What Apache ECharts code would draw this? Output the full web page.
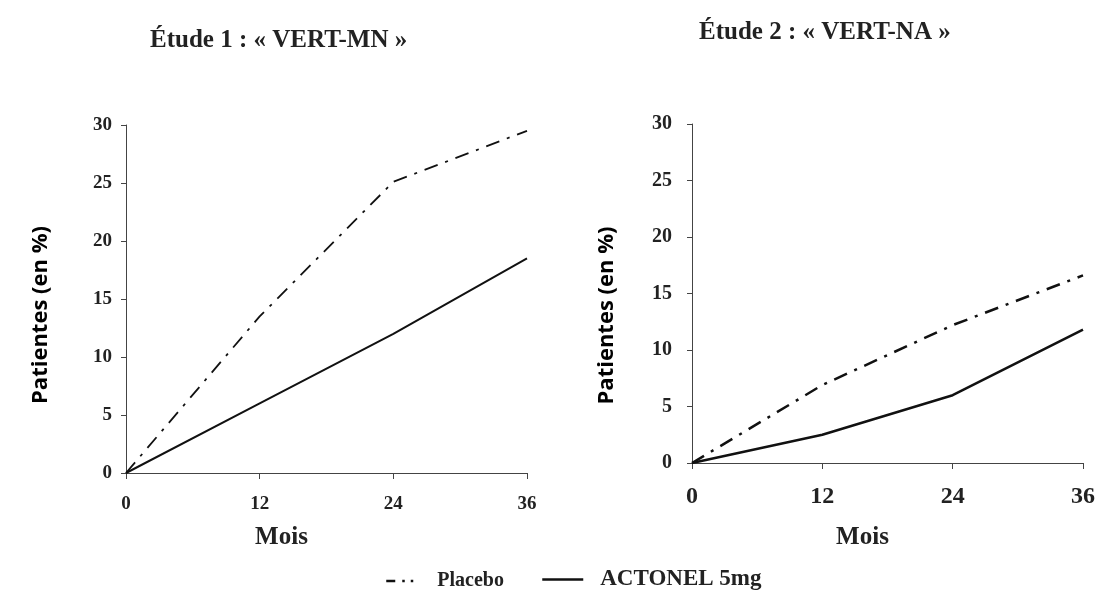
<!DOCTYPE html>
<html lang="fr">
<head>
    <meta charset="UTF-8">
    <title>VERT-MN / VERT-NA</title>
    <script src="https://cdn.jsdelivr.net/npm/echarts@6/dist/echarts.min.js"></script>
</head>
<body style="margin:0;background:#fff;">
<div id="chart" style="width:1102px;height:596px;"></div>
<script type="text/javascript">
    // mois de suivi
    var months = [0, 12, 24, 36];
    // Etude 1 : VERT-MN
    var placebo1 = [0, 13.5, 25.1, 29.5];
    var actonel1 = [0, 6.0, 12.0, 18.5];
    // Etude 2 : VERT-NA
    var placebo2 = [0, 6.9, 12.2, 16.6];
    var actonel2 = [0, 2.5, 6.0, 11.8];

    var titles = ['Étude 1 : « VERT-MN »', 'Étude 2 : « VERT-NA »'];
    var seriesNames = ['Placebo', 'ACTONEL 5mg'];

    var serif = '"Liberation Serif", "Times New Roman", serif';
    var ink = '#111';

    function pairs(xs, ys) {
        var out = [];
        for (var i = 0; i < xs.length; i++) {
            out.push([xs[i], ys[i]]);
        }
        return out;
    }

    function xAxisFor(idx, fontSize, margin, gap, shift) {
        return {
            gridIndex: idx,
            type: 'value',
            min: 0, max: 36, interval: 12,
            name: 'Mois',
            nameLocation: 'middle',
            nameGap: gap,
            nameTextStyle: {fontFamily: serif, fontWeight: 'bold', fontSize: 25, color: '#222', padding: [0, shift, 0, 0]},
            splitLine: {show: false},
            axisLine: {lineStyle: {color: '#444', width: 1}},
            axisTick: {show: true, length: 6, lineStyle: {color: '#444'}},
            axisLabel: {fontFamily: serif, fontWeight: 'bold', fontSize: fontSize, color: '#222', margin: margin}
        };
    }

    function yAxisFor(idx, fontSize, margin, shift) {
        return {
            gridIndex: idx,
            type: 'value',
            min: 0, max: 30, interval: 5,
            name: 'Patientes (en %)',
            nameLocation: 'middle',
            nameRotate: 90,
            nameGap: 74,
            nameTextStyle: {fontFamily: '"Open Sans", sans-serif', fontWeight: 'bold', fontSize: 22, color: '#000', padding: [0, shift, 0, 0]},
            splitLine: {show: false},
            axisLine: {show: true, lineStyle: {color: '#444', width: 1}},
            axisTick: {show: true, length: 5, lineStyle: {color: '#444'}},
            axisLabel: {fontFamily: serif, fontWeight: 'bold', fontSize: fontSize, color: '#222', margin: margin}
        };
    }

    function lineSeries(name, idx, xs, ys, dashed, width) {
        return {
            name: name,
            type: 'line',
            xAxisIndex: idx,
            yAxisIndex: idx,
            data: pairs(xs, ys),
            symbol: 'none',
            animation: false,
            lineStyle: {color: ink, width: width, type: dashed ? [14, 8, 3, 8] : 'solid'},
            itemStyle: {color: ink}
        };
    }

    var myChart = echarts.init(document.getElementById('chart'));

    var option = {
        backgroundColor: '#fff',
        animation: false,
        title: [
            {text: titles[0], left: 145, top: 23, textStyle: {fontFamily: serif, fontWeight: 'bold', fontSize: 25, color: '#222'}},
            {text: titles[1], left: 694, top: 15, textStyle: {fontFamily: serif, fontWeight: 'bold', fontSize: 25, color: '#222'}}
        ],
        legend: [
            {
                data: [seriesNames[0]],
                left: 385, top: 571, padding: 0,
                itemWidth: 34, itemHeight: 12, itemGap: 8,
                itemStyle: {opacity: 0},
                lineStyle: {type: [9, 7, 2.5, 6, 2.5, 40], width: 2.5},
                textStyle: {fontFamily: serif, fontWeight: 'bold', fontSize: 20, color: '#222', padding: [0, 0, 0, 12]}
            },
            {
                data: [seriesNames[1]],
                left: 541, top: 568, padding: 0,
                itemWidth: 41, itemHeight: 12, itemGap: 14,
                itemStyle: {opacity: 0},
                lineStyle: {width: 2.5},
                textStyle: {fontFamily: serif, fontWeight: 'bold', fontSize: 23, color: '#222', padding: [0, 0, 0, 12]}
            }
        ],
        grid: [
            {left: 126, top: 125, width: 401, height: 348},
            {left: 692, top: 124, width: 391, height: 339}
        ],
        xAxis: [
            xAxisFor(0, 19, 22, 52, 90),
            xAxisFor(1, 24, 22, 62, 50)
        ],
        yAxis: [
            yAxisFor(0, 19, 14, 32),
            yAxisFor(1, 20, 20, 44)
        ],
        series: [
            lineSeries(seriesNames[0], 0, months, placebo1, true, 1.8),
            lineSeries(seriesNames[1], 0, months, actonel1, false, 2),
            lineSeries(seriesNames[0], 1, months, placebo2, true, 2.5),
            lineSeries(seriesNames[1], 1, months, actonel2, false, 2.5)
        ]
    };

    myChart.setOption(option);
</script>
</body>
</html>
